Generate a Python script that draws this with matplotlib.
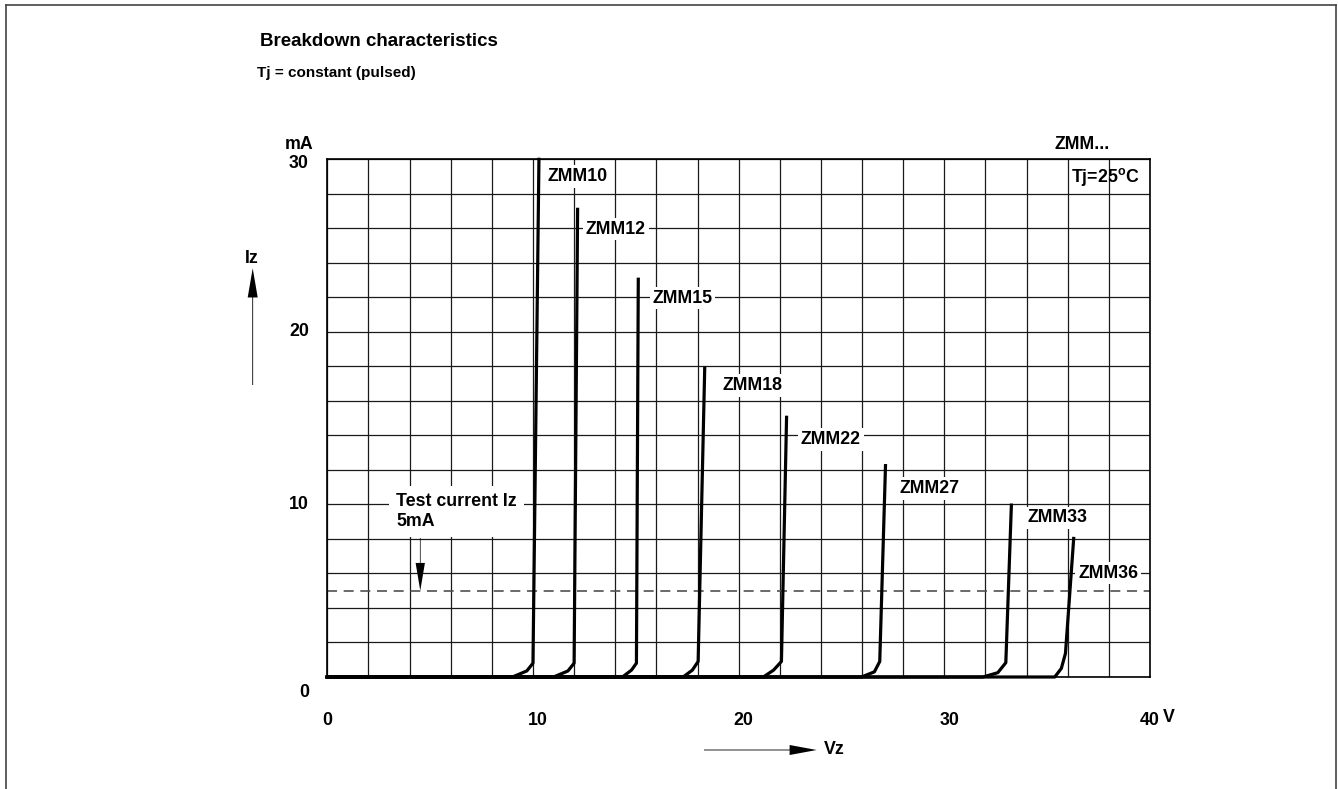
import numpy as np
import matplotlib.pyplot as plt
from matplotlib.lines import Line2D

plt.rcParams['font.family'] = ['Liberation Sans', 'DejaVu Sans']
plt.rcParams['font.weight'] = 'bold'
plt.rcParams['mathtext.fontset'] = 'custom'
plt.rcParams['mathtext.rm'] = 'Liberation Sans:bold'
plt.rcParams['mathtext.bf'] = 'Liberation Sans:bold'

#%% Data (Vz in V, Iz in mA)
diodes = ['ZMM10', 'ZMM12', 'ZMM15', 'ZMM18', 'ZMM22', 'ZMM27', 'ZMM33', 'ZMM36']

zmm10_v = [0, 9.0, 9.7, 10.0, 10.29]
zmm10_i = [0, 0, 0.35, 0.8, 30.0]
zmm12_v = [0, 11.0, 11.7, 12.0, 12.17]
zmm12_i = [0, 0, 0.35, 0.8, 27.1]
zmm15_v = [0, 14.35, 14.79, 15.03, 15.12]
zmm15_i = [0, 0, 0.4, 0.8, 23.05]
zmm18_v = [0, 17.3, 17.75, 18.03, 18.35]
zmm18_i = [0, 0, 0.4, 0.9, 17.9]
zmm22_v = [0, 21.2, 21.7, 22.08, 22.33]
zmm22_i = [0, 0, 0.4, 0.9, 15.05]
zmm27_v = [0, 25.97, 26.6, 26.86, 27.14]
zmm27_i = [0, 0, 0.3, 0.9, 12.25]
zmm33_v = [0, 31.88, 32.6, 32.99, 33.26]
zmm33_i = [0, 0, 0.25, 0.83, 9.96]
zmm36_v = [0, 35.37, 35.69, 35.89, 36.29]
zmm36_i = [0, 0, 0.5, 1.37, 8.03]

curves_v = [zmm10_v, zmm12_v, zmm15_v, zmm18_v, zmm22_v, zmm27_v, zmm33_v, zmm36_v]
curves_i = [zmm10_i, zmm12_i, zmm15_i, zmm18_i, zmm22_i, zmm27_i, zmm33_i, zmm36_i]

test_current = 5  # mA
x_ticks = [0, 10, 20, 30, 40]
y_ticks = [0, 10, 20, 30]

# label anchors (left edge, vertical centre) in data units
label_v = [10.72, 12.57, 15.81, 19.22, 23.02, 27.80, 34.02, 36.5]
label_i = [29.0, 25.96, 21.96, 16.9, 13.76, 10.92, 9.22, 6.02]

#%% Figure
W, H = 1338, 789
fs = 12.8
fig = plt.figure(figsize=(W / 100, H / 100), dpi=100)

def fxy(px, py):
    return px / W, 1 - py / H

ax = fig.add_axes([327.3 / W, 1 - 677 / H, (1150 - 327.3) / W, (677 - 159.3) / H])
ax.set_xlim(0, 40)
ax.set_ylim(0, 30)
ax.set_xticks(np.arange(0, 41, 2))
ax.set_yticks(np.arange(0, 31, 2))
ax.tick_params(length=0, labelbottom=False, labelleft=False)
ax.grid(True, color='#1a1a1a', lw=0.9)
ax.set_axisbelow(True)
for s in ax.spines.values():
    s.set_linewidth(1.2)

ax.axhline(test_current, color='#505050', lw=1.2, dashes=(6, 4))

for v, i in zip(curves_v, curves_i):
    ax.plot(v, i, color='black', lw=2.3, clip_on=False, solid_joinstyle='round')

for name, lv, li in zip(diodes, label_v, label_i):
    ax.text(lv, li, name, fontsize=fs, ha='left', va='center',
            bbox=dict(facecolor='white', edgecolor='none', pad=2))

# tick labels (the datasheet sets "0" lower and "30" a touch lower)
for t in y_ticks:
    yy = {0: -0.87, 30: 29.75}.get(t, t)
    ax.text(-0.9, yy, str(t), fontsize=fs, ha='right', va='center', clip_on=False)
for t in x_ticks:
    xx = t + 0.25 if 0 < t < 40 else t
    ax.text(xx, -2.5, str(t), fontsize=fs, ha='center', va='center', clip_on=False)
ax.text(-0.65, 30.86, 'mA', fontsize=fs, ha='right', va='center', clip_on=False)
ax.text(40.9, -2.36, 'V', fontsize=fs, ha='center', va='center', clip_on=False)
ax.text(35.37, 30.86, 'ZMM...', fontsize=fs, ha='left', va='center', clip_on=False)
ax.text(36.18, 29.0, r'Tj=25$^{\mathrm{o}}$C', fontsize=fs, ha='left', va='center')

# test current note
ax.text(3.34, 9.59, 'Test current Iz\n5mA', fontsize=fs, ha='left', va='center',
        linespacing=1.2, bbox=dict(facecolor='white', edgecolor='none', pad=5))
ax.annotate('', xy=(4.52, test_current), xytext=(4.52, 8.05),
            arrowprops=dict(width=0.5, headwidth=6.7, headlength=20,
                            facecolor='black', edgecolor='black', lw=0))

# axis arrows
ax.annotate('', xy=(252.7, H - 268.3), xytext=(252.7, H - 385), xycoords='figure pixels',
            arrowprops=dict(width=0.6, headwidth=7.2, headlength=21,
                            facecolor='black', edgecolor='#333333', lw=0))
ax.annotate('', xy=(816.7, H - 750), xytext=(704, H - 750), xycoords='figure pixels',
            arrowprops=dict(width=0.6, headwidth=7.2, headlength=19.5,
                            facecolor='black', edgecolor='#333333', lw=0))
fig.text(*fxy(251.7, 258.3), 'Iz', fontsize=fs, ha='center', va='center')
fig.text(*fxy(824, 750), 'Vz', fontsize=fs, ha='left', va='center')

# titles
fig.text(*fxy(260, 42), 'Breakdown characteristics', fontsize=13.5, ha='left', va='center')
fig.text(*fxy(257, 73), 'Tj = constant (pulsed)', fontsize=11, ha='left', va='center')

# page frame
fig.add_artist(Line2D([6 / W, 6 / W], [0, 1 - 5 / H], transform=fig.transFigure, color='#444444', lw=1.2))
fig.add_artist(Line2D([1336 / W, 1336 / W], [0, 1 - 5 / H], transform=fig.transFigure, color='#444444', lw=1.2))
fig.add_artist(Line2D([6 / W, 1336 / W], [1 - 5 / H, 1 - 5 / H], transform=fig.transFigure, color='#444444', lw=1.2))

fig.savefig('out.png', dpi=100)
